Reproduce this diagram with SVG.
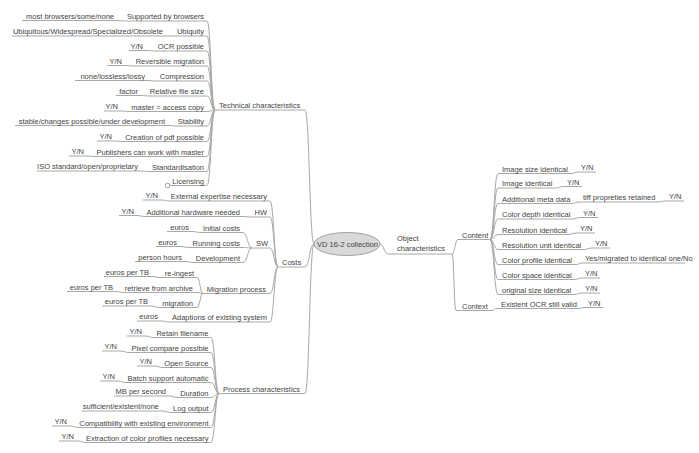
<svg xmlns="http://www.w3.org/2000/svg" width="699" height="453" viewBox="0 0 699 453">
<style>
text{font-family:"Liberation Sans",Arial,sans-serif;font-size:7.5px;fill:#444}
.e{text-anchor:end}
.m{text-anchor:middle}
path{fill:none;stroke:#a8a8a8;stroke-width:1}
</style>
<rect width="699" height="453" fill="#fff"/>
<g id="connectors">
<path d="M380 244C384 244 384 254 388 254"/>
<path d="M305 110C309.5 110 309.5 244 314 244"/>
<path d="M305 267C309.5 267 309.5 244 314 244"/>
<path d="M305 393.5C309.5 393.5 309.5 244 314 244"/>
<path d="M207 21C211 21 211 110 215 110M207 36C211 36 211 110 215 110M207 51C211 51 211 110 215 110M207 66C211 66 211 110 215 110M207 81C211 81 211 110 215 110M207 96C211 96 211 110 215 110M207 111.5C211 111.5 211 110 215 110M207 126C211 126 211 110 215 110M207 141.5C211 141.5 211 110 215 110M207 156.5C211 156.5 211 110 215 110M207 171.5C211 171.5 211 110 215 110M207 185.5C211 185.5 211 110 215 110"/>
<path d="M117 20.5C121.5 20.5 121.5 21 126 21M166 36H176M146 50.5C150.5 50.5 150.5 51 155 51M125 65.5C129.5 65.5 129.5 66 134 66M148 80.5C152 80.5 152 81 156 81M141 95.5C145 95.5 145 96 149 96M121 111C125.5 111 125.5 111.5 130 111.5M168 125.5C172.5 125.5 172.5 126 177 126M115 141C119 141 119 141.5 123 141.5M87 156C91 156 91 156.5 95 156.5M141 171C145.5 171 145.5 171.5 150 171.5"/>
<path d="M270 201C274 201 274 267 278 267M270 217C274 217 274 267 278 267M270 248C274 248 274 267 278 267M270 293.5C274 293.5 274 267 278 267M270 322C274 322 274 267 278 267"/>
<path d="M161 200C165.5 200 165.5 201 170 201M243 216.5C247 216.5 247 217 251 217M137 215.5C141 215.5 141 216.5 145 216.5"/>
<path d="M243 232.5C247.5 232.5 247.5 248 252 248M243 247.5C247.5 247.5 247.5 248 252 248M243 262.5C247.5 262.5 247.5 248 252 248M192 231.5C196.5 231.5 196.5 232.5 201 232.5M180 246.5C185 246.5 185 247.5 190 247.5M185 261.5C189.5 261.5 189.5 262.5 194 262.5"/>
<path d="M197 277.5C200 277.5 200 293.5 203 293.5M197 292.5C200 292.5 200 293.5 203 293.5M197 307.5C200 307.5 200 293.5 203 293.5M152 276.5C156 276.5 156 277.5 160 277.5M116 291.5C120 291.5 120 292.5 124 292.5M151 306C155.5 306 155.5 307.5 160 307.5M161 321C165.5 321 165.5 322 170 322"/>
<path d="M211 337.5C215 337.5 215 393.5 219 393.5M211 352.5C215 352.5 215 393.5 219 393.5M211 367.5C215 367.5 215 393.5 219 393.5M211 382.5C215 382.5 215 393.5 219 393.5M211 397.5C215 397.5 215 393.5 219 393.5M211 412.5C215 412.5 215 393.5 219 393.5M211 427.5C215 427.5 215 393.5 219 393.5M211 442.5C215 442.5 215 393.5 219 393.5"/>
<path d="M145 336C149.5 336 149.5 337.5 154 337.5M120 351C124.5 351 124.5 352.5 129 352.5M155 366C159 366 159 367.5 163 367.5M118 381C122 381 122 382.5 126 382.5M169 396C173.5 396 173.5 397.5 178 397.5M162 411C166.5 411 166.5 412.5 171 412.5M70 426C74.5 426 74.5 427.5 79 427.5M77 441C81.5 441 81.5 442.5 86 442.5"/>
<path d="M452 254C455 254 455 239.5 458 239.5M452 254C454 254 454 310.5 456 310.5"/>
<path d="M490 239.5C494 239.5 494 173.5 498 173.5M490 239.5C494 239.5 494 188 498 188M490 239.5C494 239.5 494 203.5 498 203.5M490 239.5C494 239.5 494 219 498 219M490 239.5C494 239.5 494 234.5 498 234.5M490 239.5C494 239.5 494 249.5 498 249.5M490 239.5C494 239.5 494 264.5 498 264.5M490 239.5C494 239.5 494 279.5 498 279.5M490 239.5C494 239.5 494 294.5 498 294.5"/>
<path d="M571 173.5C574.5 173.5 574.5 172 578 172M555 188C559.5 188 559.5 186.5 564 186.5M571 203.5C575.5 203.5 575.5 202 580 202M658 202C662 202 662 201 666 201M572 219C576 219 576 217.5 580 217.5M567 234.5C572 234.5 572 233 577 233M584 249.5C588 249.5 588 248 592 248M576 264.5C579 264.5 579 263 582 263M574 279.5C578 279.5 578 278 582 278M574 294.5C578 294.5 578 293 582 293"/>
<path d="M492 310.5C494.5 310.5 494.5 308.5 497 308.5M577 308.5C581 308.5 581 307.5 585 307.5"/>
</g>
<g id="root"><ellipse cx="347" cy="244" rx="33" ry="11.5" fill="#d9d9d9" stroke="#a0a0a0"/><text class="m" x="347.5" y="247">VD 16-2 collection</text></g>
<g id="technical"><path d="M215 110H305"/><text x="219" y="107.5">Technical characteristics</text></g>
<g id="t1"><path d="M126 21H207"/><text class="e" x="204" y="19">Supported by browsers</text></g>
<g id="t1v"><path d="M22 20.5H117"/><text class="e" x="114" y="18.5">most browsers/some/none</text></g>
<g id="t2"><path d="M176 36H207"/><text class="e" x="204" y="34">Ubiquity</text></g>
<g id="t2v"><path d="M12 36H166"/><text class="e" x="163" y="34">Ubiquitous/Widespread/Specialized/Obsolete</text></g>
<g id="t3"><path d="M155 51H207"/><text class="e" x="204" y="49">OCR possible</text></g>
<g id="t3v"><path d="M129 50.5H146"/><text class="e" x="143" y="48.5">Y/N</text></g>
<g id="t4"><path d="M134 66H207"/><text class="e" x="204" y="64">Reversible migration</text></g>
<g id="t4v"><path d="M107 65.5H125"/><text class="e" x="122" y="63.5">Y/N</text></g>
<g id="t5"><path d="M156 81H207"/><text class="e" x="204" y="79">Compression</text></g>
<g id="t5v"><path d="M75 80.5H148"/><text class="e" x="145" y="78.5">none/lossless/lossy</text></g>
<g id="t6"><path d="M149 96H207"/><text class="e" x="204" y="94">Relative file size</text></g>
<g id="t6v"><path d="M116 95.5H141"/><text class="e" x="138" y="93.5">factor</text></g>
<g id="t7"><path d="M130 111.5H207"/><text class="e" x="204" y="109.5">master = access copy</text></g>
<g id="t7v"><path d="M104 111H121"/><text class="e" x="118" y="109">Y/N</text></g>
<g id="t8"><path d="M177 126H207"/><text class="e" x="204" y="124">Stability</text></g>
<g id="t8v"><path d="M15 125.5H168"/><text class="e" x="165" y="123.5">stable/changes possible/under development</text></g>
<g id="t9"><path d="M123 141.5H207"/><text class="e" x="204" y="139.5">Creation of pdf possible</text></g>
<g id="t9v"><path d="M97 141H115"/><text class="e" x="112" y="139">Y/N</text></g>
<g id="t10"><path d="M95 156.5H207"/><text class="e" x="204" y="154.5">Publishers can work with master</text></g>
<g id="t10v"><path d="M69 156H87"/><text class="e" x="84" y="154">Y/N</text></g>
<g id="t11"><path d="M150 171.5H207"/><text class="e" x="204" y="169.5">Standardisation</text></g>
<g id="t11v"><path d="M37 171H141"/><text class="e" x="138" y="169">ISO standard/open/proprietary</text></g>
<g id="t12"><path d="M170 185.5H207"/><circle cx="167.5" cy="185.5" r="2.3" fill="#fff" stroke="#a0a0a0"/><text class="e" x="204" y="184">Licensing</text></g>
<g id="costs"><path d="M278 267H305"/><text x="282" y="265">Costs</text></g>
<g id="c1"><path d="M170 201H270"/><text class="e" x="267" y="199">External expertise necessary</text></g>
<g id="c1v"><path d="M143 200H161"/><text class="e" x="158" y="198">Y/N</text></g>
<g id="c2"><path d="M251 217H270"/><text class="e" x="267" y="215">HW</text></g>
<g id="c2a"><path d="M145 216.5H243"/><text class="e" x="240" y="214.5">Additional hardware needed</text></g>
<g id="c2av"><path d="M119 215.5H137"/><text class="e" x="134" y="213.5">Y/N</text></g>
<g id="c3"><path d="M252 248H270"/><text class="e" x="268" y="246">SW</text></g>
<g id="c3a"><path d="M201 232.5H243"/><text class="e" x="240" y="230.5">Initial costs</text></g>
<g id="c3av"><path d="M167 231.5H192"/><text class="e" x="189" y="229.5">euros</text></g>
<g id="c3b"><path d="M190 247.5H243"/><text class="e" x="240" y="245.5">Running costs</text></g>
<g id="c3bv"><path d="M156 246.5H180"/><text class="e" x="177" y="244.5">euros</text></g>
<g id="c3c"><path d="M194 262.5H243"/><text class="e" x="240" y="260.5">Development</text></g>
<g id="c3cv"><path d="M135 261.5H185"/><text class="e" x="182" y="259.5">person hours</text></g>
<g id="c4"><path d="M203 293.5H270"/><text class="e" x="266" y="291.5">Migration process</text></g>
<g id="c4a"><path d="M160 277.5H197"/><text class="e" x="194" y="275.5">re-ingest</text></g>
<g id="c4av"><path d="M104 276.5H152"/><text class="e" x="149" y="274.5">euros per TB</text></g>
<g id="c4b"><path d="M124 292.5H197"/><text class="e" x="193" y="290.5">retrieve from archive</text></g>
<g id="c4bv"><path d="M67 291.5H116"/><text class="e" x="113" y="289.5">euros per TB</text></g>
<g id="c4c"><path d="M160 307.5H197"/><text class="e" x="193" y="305.5">migration</text></g>
<g id="c4cv"><path d="M102 306H151"/><text class="e" x="148" y="304">euros per TB</text></g>
<g id="c5"><path d="M170 322H270"/><text class="e" x="267" y="320">Adaptions of existing system</text></g>
<g id="c5v"><path d="M137 321H161"/><text class="e" x="158" y="319">euros</text></g>
<g id="process"><path d="M219 393.5H305"/><text x="223" y="391.5">Process characteristics</text></g>
<g id="p1"><path d="M154 337.5H211"/><text class="e" x="208.5" y="335.5">Retain filename</text></g>
<g id="p1v"><path d="M127 336H145"/><text class="e" x="142" y="334">Y/N</text></g>
<g id="p2"><path d="M129 352.5H211"/><text class="e" x="208.5" y="350.5">Pixel compare possible</text></g>
<g id="p2v"><path d="M102 351H120"/><text class="e" x="117" y="349">Y/N</text></g>
<g id="p3"><path d="M163 367.5H211"/><text class="e" x="208.5" y="365.5">Open Source</text></g>
<g id="p3v"><path d="M137 366H155"/><text class="e" x="152" y="364">Y/N</text></g>
<g id="p4"><path d="M126 382.5H211"/><text class="e" x="208.5" y="380.5">Batch support automatic</text></g>
<g id="p4v"><path d="M100 381H118"/><text class="e" x="115" y="379">Y/N</text></g>
<g id="p5"><path d="M178 397.5H211"/><text class="e" x="208.5" y="395.5">Duration</text></g>
<g id="p5v"><path d="M114 396H169"/><text class="e" x="166" y="394">MB per second</text></g>
<g id="p6"><path d="M171 412.5H211"/><text class="e" x="208.5" y="410.5">Log output</text></g>
<g id="p6v"><path d="M82 411H162"/><text class="e" x="159" y="409">sufficient/existent/none</text></g>
<g id="p7"><path d="M79 427.5H211"/><text class="e" x="208.5" y="425.5">Compatibility with existing environment</text></g>
<g id="p7v"><path d="M52 426H70"/><text class="e" x="67" y="424">Y/N</text></g>
<g id="p8"><path d="M86 442.5H211"/><text class="e" x="208.5" y="440.5">Extraction of color profiles necessary</text></g>
<g id="p8v"><path d="M59 441H77"/><text class="e" x="74" y="439">Y/N</text></g>
<g id="object"><path d="M388 254H452"/><text x="397" y="241">Object</text><text x="397" y="251">characteristics</text></g>
<g id="content"><path d="M458 239.5H490"/><text x="462" y="237.5">Content</text></g>
<g id="o1"><path d="M498 173.5H571"/><text x="502" y="171.5">Image size identical</text></g>
<g id="o1v"><path d="M578 172H596"/><text x="581" y="170">Y/N</text></g>
<g id="o2"><path d="M498 188H555"/><text x="502" y="186">Image identical</text></g>
<g id="o2v"><path d="M564 186.5H582"/><text x="567" y="184.5">Y/N</text></g>
<g id="o3"><path d="M498 203.5H571"/><text x="502" y="201.5">Additional meta data</text></g>
<g id="o3a"><path d="M580 202H658"/><text x="583" y="200">tiff propreties retained</text></g>
<g id="o3av"><path d="M666 201H684"/><text x="669" y="199">Y/N</text></g>
<g id="o4"><path d="M498 219H572"/><text x="502" y="217">Color depth identical</text></g>
<g id="o4v"><path d="M580 217.5H598"/><text x="583" y="215.5">Y/N</text></g>
<g id="o5"><path d="M498 234.5H567"/><text x="502" y="232.5">Resolution identical</text></g>
<g id="o5v"><path d="M577 233H595"/><text x="580" y="231">Y/N</text></g>
<g id="o6"><path d="M498 249.5H584"/><text x="502" y="247.5">Resolution unit identical</text></g>
<g id="o6v"><path d="M592 248H610"/><text x="595" y="246">Y/N</text></g>
<g id="o7"><path d="M498 264.5H576"/><text x="502" y="262.5">Color profile identical</text></g>
<g id="o7v"><path d="M582 263H685"/><text x="585" y="261">Yes/migrated to identical one/No</text></g>
<g id="o8"><path d="M498 279.5H574"/><text x="502" y="277.5">Color space identical</text></g>
<g id="o8v"><path d="M582 278H600"/><text x="585" y="276">Y/N</text></g>
<g id="o9"><path d="M498 294.5H574"/><text x="502" y="292.5">original size identical</text></g>
<g id="o9v"><path d="M582 293H600"/><text x="585" y="291">Y/N</text></g>
<g id="context"><path d="M456 310.5H492"/><text x="462" y="308.5">Context</text></g>
<g id="x1"><path d="M497 308.5H577"/><text x="501" y="306.5">Existent OCR still valid</text></g>
<g id="x1v"><path d="M585 307.5H603"/><text x="588" y="305.5">Y/N</text></g>
</svg>
